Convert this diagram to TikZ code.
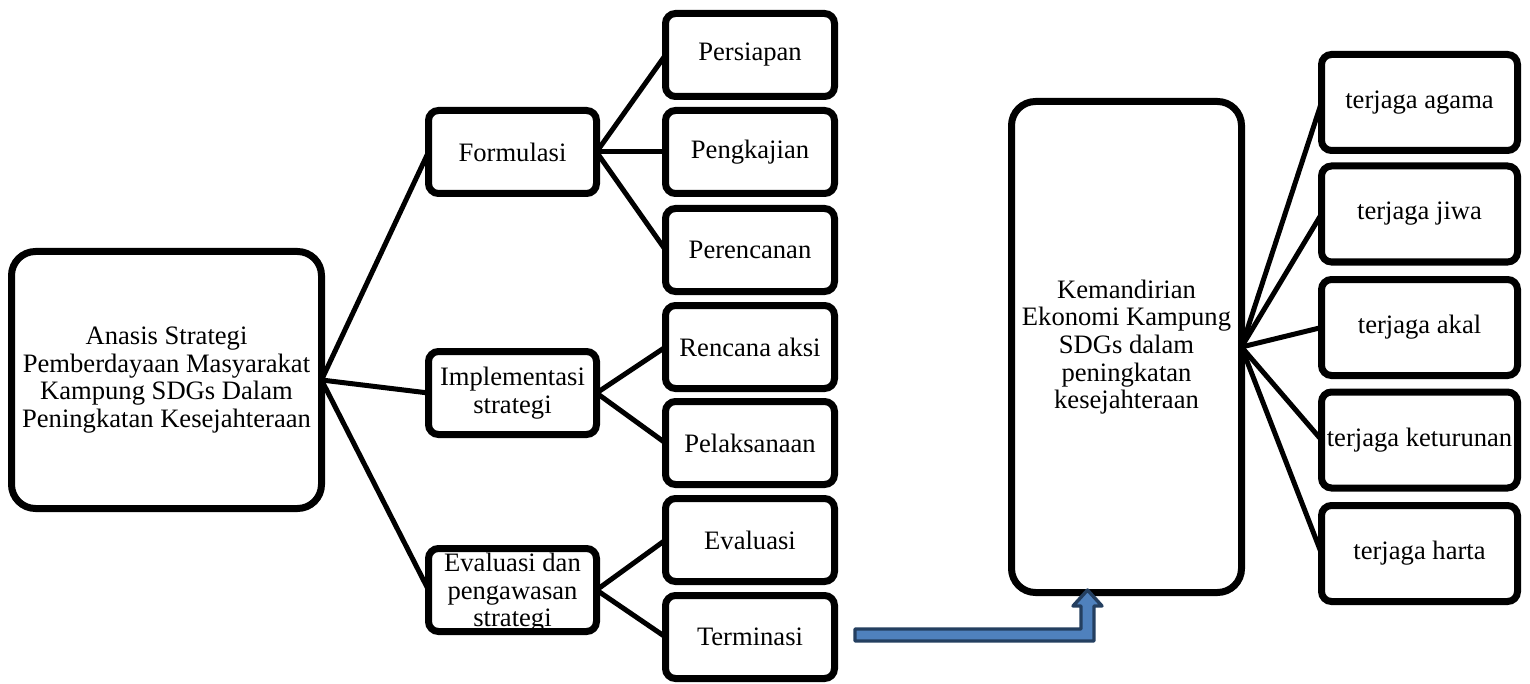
\documentclass[tikz,border=0pt]{standalone}
\usepackage{fontspec}
\setmainfont{Liberation Serif}
\usetikzlibrary{shadows}
\definecolor{arrowfill}{HTML}{4F81BD}
\definecolor{arrowline}{HTML}{243F60}
\tikzset{
  box/.style={draw=black, line width=3.5pt, fill=white, rounded corners=5pt,
    align=center, inner sep=0pt, outer sep=0pt,
    font=\fontsize{13.3}{13.8}\selectfont,
    drop shadow={shadow xshift=1.2pt, shadow yshift=-1.2pt, opacity=0.25, fill=black}},
  bigbox/.style={box, rounded corners=12pt},
  midbox/.style={box, minimum width=84pt, minimum height=41.5pt},
  leafbox/.style={box, minimum width=84.5pt, minimum height=41.5pt},
  rbox/.style={box, minimum width=98pt, minimum height=48pt},
  plaintext/.style={align=center, inner sep=0pt, font=\fontsize{13.3}{13.8}\selectfont},
  link/.style={draw=black, line width=2.5pt},
  blockarrow/.style={fill=arrowfill, draw=arrowline, line width=1.7pt, line join=round}
}
\begin{document}
\begin{tikzpicture}[x=0.5pt,y=-0.5pt]
\useasboundingbox (0,0) rectangle (1530,684);
% left root
\node[bigbox, minimum width=155pt, minimum height=128.5pt] (L) at (166.5,380)
  {Anasis Strategi\\Pemberdayaan Masyarakat\\Kampung SDGs Dalam\\Peningkatan Kesejahteraan};
% middle level
\node[midbox] (F) at (512.5,152) {Formulasi};
\node[midbox] (I) at (512.5,393) {Implementasi\\strategi};
\node[midbox] (E) at (512.5,590) {};
\node[plaintext] (Etxt) at ([yshift=-1.5pt]E.center) {Evaluasi dan\\pengawasan\\strategi};
% leaves
\node[leafbox] (P1) at (750,55) {Persiapan};
\node[leafbox] (P2) at (750,152) {Pengkajian};
\node[leafbox] (P3) at (750,250) {Perencanan};
\node[leafbox] (R1) at (750,347) {Rencana aksi};
\node[leafbox] (R2) at (750,443) {Pelaksanaan};
\node[leafbox] (V1) at (750,540) {Evaluasi};
\node[leafbox] (V2) at (750,637) {Terminasi};
% right root
\node[bigbox, minimum width=115pt, minimum height=245.5pt] (K) at (1126.5,347)
  {Kemandirian\\Ekonomi Kampung\\SDGs dalam\\peningkatan\\kesejahteraan};
\node[rbox] (T1) at (1419.5,102.5) {terjaga agama};
\node[rbox] (T2) at (1419.5,214) {terjaga jiwa};
\node[rbox] (T3) at (1419.5,327.5) {terjaga akal};
\node[rbox] (T4) at (1419.5,440) {terjaga keturunan};
\node[rbox] (T5) at (1419.5,553.5) {terjaga harta};
% connectors
\foreach \c in {F,I,E} \draw[link] (L.east) -- (\c.west);
\foreach \c in {P1,P2,P3} \draw[link] (F.east) -- (\c.west);
\foreach \c in {R1,R2} \draw[link] (I.east) -- (\c.west);
\foreach \c in {V1,V2} \draw[link] (E.east) -- (\c.west);
\foreach \c in {T1,T2,T3,T4,T5} \draw[link] (K.east) -- (\c.west);
% bent-up block arrow from Terminasi towards Kemandirian
\draw[blockarrow] (855,629) -- (1081,629) -- (1081,606) -- (1073,606) -- (1087.5,590)
  -- (1102,606) -- (1094,606) -- (1094,641) -- (855,641) -- cycle;
\end{tikzpicture}
\end{document}
